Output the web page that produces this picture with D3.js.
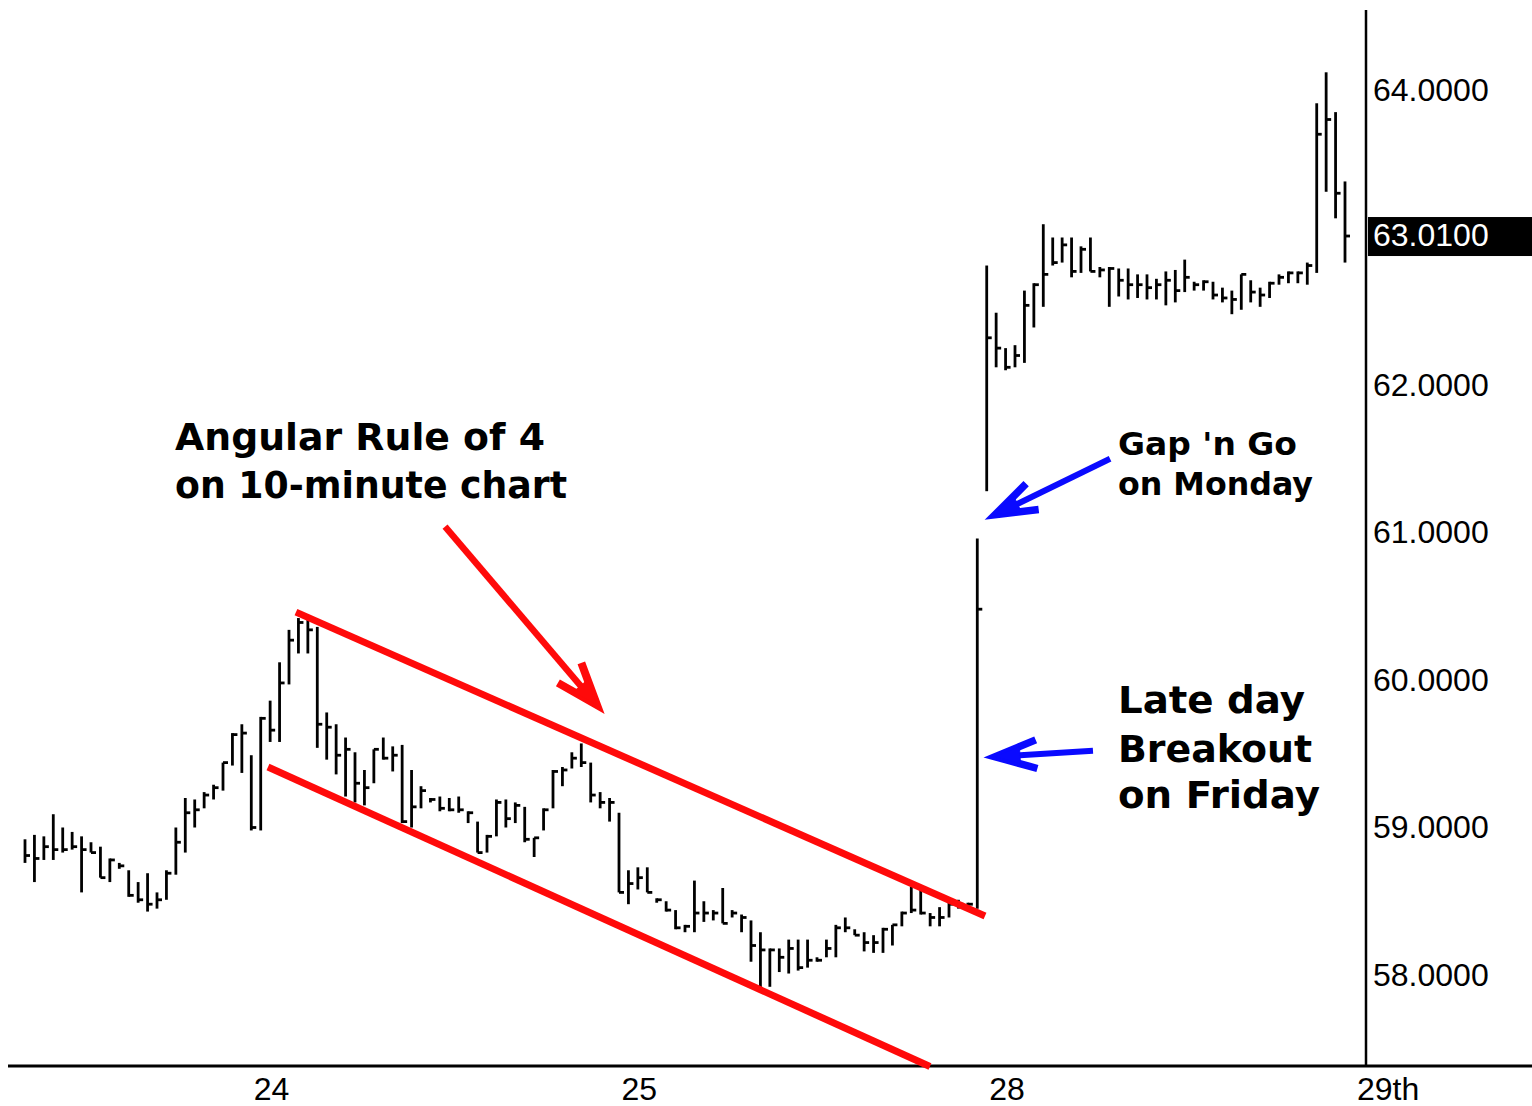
<!DOCTYPE html>
<head>
  <meta charset="utf-8">
  <script src="https://d3js.org/d3.v7.min.js"></script>
  <style>
    body { margin:0; background:#fff; }
    .tick text { font-family:"Liberation Sans", Arial, sans-serif; font-size:32px; fill:#000; }
    .note { font-family:"DejaVu Sans", Verdana, sans-serif; font-weight:bold; fill:#000; }
  </style>
</head>
<body>
<script>

// 10-minute bars: high / low / close, one row per session (23rd tail, 24, 25, 28)
var highs = [
  58.92,58.95,58.94,59.09,59.00,58.97,58.94,58.90,58.87,58.79,58.76,58.71,58.63,58.69,58.56,58.71,59.00,59.20,59.19,59.24,59.29,59.44,59.64,59.70,
  59.49,59.75,59.86,60.12,60.34,60.42,60.41,60.36,59.78,59.70,59.61,59.51,59.39,59.53,59.61,59.55,59.56,59.39,59.28,59.20,59.21,59.20,59.21,59.11,59.04,58.95,59.19,59.19,59.17,59.14,58.93,59.13,59.39,59.41,59.51,59.57,59.44,59.24,59.20,
  59.10,58.71,58.73,58.73,58.52,58.50,58.44,58.34,58.64,58.50,58.44,58.59,58.44,58.41,58.37,58.29,58.18,58.18,58.24,58.24,58.24,58.12,58.24,58.34,58.39,58.31,58.29,58.27,58.32,58.34,58.43,58.60,58.59,58.42,58.46,58.49,58.51,58.49,60.96,
  62.81,62.49,62.25,62.27,62.64,62.69,63.09,63.00,63.00,63.00,62.94,63.00,62.80,62.80,62.79,62.79,62.75,62.75,62.72,62.77,62.78,62.85,62.70,62.71,62.70,62.66,62.64,62.75,62.71,62.66,62.70,62.75,62.77,62.77,62.83,63.91,64.12,63.85,63.38
];
var lows = [
  58.76,58.63,58.78,58.78,58.83,58.85,58.56,58.83,58.66,58.63,58.72,58.53,58.49,58.43,58.45,58.51,58.68,58.83,59.00,59.13,59.19,59.25,59.42,59.37,
  58.98,58.98,59.58,59.58,59.97,60.18,60.18,59.54,59.46,59.36,59.21,59.17,59.15,59.30,59.46,59.38,59.03,59.00,59.13,59.17,59.11,59.11,59.10,59.03,58.83,58.83,58.94,59.00,59.03,58.90,58.80,58.98,59.13,59.28,59.40,59.41,59.17,59.13,59.04,
  58.56,58.48,58.58,58.56,58.49,58.43,58.31,58.29,58.29,58.36,58.37,58.35,58.39,58.29,58.09,57.91,57.92,58.02,58.01,58.03,58.05,58.09,58.12,58.12,58.29,58.27,58.16,58.15,58.15,58.20,58.33,58.42,58.41,58.33,58.33,58.39,58.45,58.44,58.45,
  61.28,62.12,62.10,62.12,62.15,62.39,62.53,62.81,62.83,62.73,62.76,62.77,62.73,62.53,62.60,62.58,62.59,62.58,62.58,62.54,62.56,62.63,62.64,62.64,62.58,62.56,62.48,62.51,62.56,62.53,62.59,62.68,62.69,62.69,62.68,62.76,63.31,63.13,62.83
];
var closes = [
  58.81,58.79,58.87,58.85,58.85,58.87,58.85,58.83,58.66,58.78,58.74,58.54,58.51,58.48,58.51,58.69,58.90,59.10,59.12,59.22,59.27,59.44,59.63,59.64,
  59.00,59.74,59.66,59.98,60.27,60.39,60.34,59.70,59.68,59.49,59.53,59.30,59.27,59.53,59.47,59.49,59.04,59.14,59.25,59.19,59.13,59.12,59.12,59.10,58.83,58.94,59.17,59.06,59.15,58.92,58.93,59.12,59.38,59.39,59.47,59.44,59.22,59.17,59.17,
  58.56,58.62,58.66,58.56,58.51,58.44,58.32,58.33,58.42,58.42,58.42,58.35,58.42,58.39,58.20,58.17,58.17,58.12,58.18,58.05,58.10,58.10,58.18,58.32,58.32,58.27,58.22,58.22,58.31,58.34,58.42,58.44,58.42,58.39,58.39,58.48,58.48,58.48,60.48,
  62.32,62.25,62.12,62.20,62.54,62.68,62.75,62.83,62.95,62.77,62.92,62.77,62.78,62.79,62.71,62.68,62.68,62.66,62.68,62.71,62.64,62.73,62.68,62.70,62.61,62.59,62.58,62.75,62.63,62.61,62.69,62.73,62.76,62.76,62.81,63.70,63.80,63.30,63.01
];

var dayLabels = ["24", "25", "28", "29th"];
var dayStarts = [24, 63, 102, 141];   // bar index where each session opens
var priceTicks = [58, 59, 60, 61, 62, 64];
var lastPrice = 63.01;

// hand-drawn annotations, in (bar index, price)
var channelTop = [[28.74, 60.46], [101.82, 58.40]];
var channelBottom = [[25.77, 59.41], [95.98, 57.38]];
var redArrow = [[44.55, 61.04], [60.67, 59.83]];
var gapArrow = [[115.08, 61.50], [102.88, 61.12]];
var lateArrow = [[113.27, 59.52], [102.88, 59.48]];

var width = 1532, height = 1106;
var axisLeft = 8, axisRight = 1366, axisBottom = 1066;

var svg = d3.select("body").append("svg")
    .attr("width", width)
    .attr("height", height);

var x = d3.scaleLinear().domain([0, 140]).range([25, 1345]);
var y = d3.scaleLinear().domain([58, 64]).range([975, 90]);

// price bars
var bars = svg.append("g")
    .attr("stroke", "#000")
    .attr("stroke-width", 2.8)
  .selectAll("g")
  .data(highs)
  .join("g");

bars.append("line")
    .attr("x1", function(d, i){ return x(i); })
    .attr("x2", function(d, i){ return x(i); })
    .attr("y1", function(d){ return y(d); })
    .attr("y2", function(d, i){ return y(lows[i]); });

bars.append("line")
    .attr("x1", function(d, i){ return x(i); })
    .attr("x2", function(d, i){ return x(i) + 5; })
    .attr("y1", function(d, i){ return y(closes[i]); })
    .attr("y2", function(d, i){ return y(closes[i]); });

// frame lines
svg.append("line")
    .attr("x1", axisLeft).attr("x2", width)
    .attr("y1", axisBottom).attr("y2", axisBottom)
    .attr("stroke", "#000").attr("stroke-width", 3);
svg.append("line")
    .attr("x1", axisRight).attr("x2", axisRight)
    .attr("y1", 10).attr("y2", axisBottom)
    .attr("stroke", "#000").attr("stroke-width", 2.5);

// price axis
var yAxis = svg.append("g")
    .attr("transform", "translate(" + axisRight + ",0)")
    .call(d3.axisRight(y).tickValues(priceTicks).tickSize(0).tickPadding(7)
          .tickFormat(d3.format(".4f")));
yAxis.select(".domain").remove();
yAxis.attr("font-family", null).attr("font-size", null);

var last = svg.append("g")
    .attr("class", "tick")
    .attr("transform", "translate(" + axisRight + "," + y(lastPrice) + ")");
last.append("rect")
    .attr("x", 2).attr("y", -19)
    .attr("width", width - axisRight - 2).attr("height", 39)
    .attr("fill", "#000");
last.append("text")
    .attr("x", 7).attr("dy", "0.32em")
    .style("fill", "#fff")
    .text(d3.format(".4f")(lastPrice));

// date axis
var xAxis = svg.append("g")
    .attr("transform", "translate(0," + axisBottom + ")")
    .call(d3.axisBottom(x).tickValues(dayStarts).tickSize(0)
          .tickFormat(function(d, i){ return dayLabels[i]; }));
xAxis.select(".domain").remove();
xAxis.attr("font-family", null).attr("font-size", null);
xAxis.selectAll("text")
    .attr("text-anchor", "start")
    .attr("x", 2)
    .attr("y", 0)
    .attr("dy", 34);

// red channel
var red = "#ff0a0a", blue = "#0a0aff";
[channelTop, channelBottom].forEach(function(seg){
  svg.append("line")
      .attr("x1", x(seg[0][0])).attr("y1", y(seg[0][1]))
      .attr("x2", x(seg[1][0])).attr("y2", y(seg[1][1]))
      .attr("stroke", red).attr("stroke-width", 7);
});

function drawArrow(seg, color, w, len, ang){
  var x1 = x(seg[0][0]), y1 = y(seg[0][1]);
  var x2 = x(seg[1][0]), y2 = y(seg[1][1]);
  var a = Math.atan2(y1 - y2, x1 - x2);
  var r = ang * Math.PI / 180;
  var b1 = [x2 + len * Math.cos(a - r), y2 + len * Math.sin(a - r)];
  var b2 = [x2 + len * Math.cos(a + r), y2 + len * Math.sin(a + r)];
  var g = svg.append("g").attr("stroke", color).attr("fill", color);
  g.append("line")
      .attr("x1", x1).attr("y1", y1).attr("x2", x2).attr("y2", y2)
      .attr("stroke-width", w);
  g.append("path")
      .attr("d", "M" + b1 + "L" + [x2, y2] + "L" + b2)
      .attr("fill", "none")
      .attr("stroke-width", w + 1.5);
  var s = 0.6;
  g.append("path")
      .attr("d", "M" + [x2 + (b1[0]-x2)*s, y2 + (b1[1]-y2)*s] + "L" + [x2, y2] +
                 "L" + [x2 + (b2[0]-x2)*s, y2 + (b2[1]-y2)*s] + "Z")
      .attr("stroke-width", 1);
}

drawArrow(redArrow, red, 6.5, 45, 20);
drawArrow(gapArrow, blue, 6, 44, 19);
drawArrow(lateArrow, blue, 6, 44, 19);

// notes
function note(lines, x0, baselines, size, lengths){
  var t = svg.append("text").attr("class", "note").attr("font-size", size);
  lines.forEach(function(s, i){
    t.append("tspan").attr("x", x0).attr("y", baselines[i])
        .attr("textLength", lengths[i]).attr("lengthAdjust", "spacingAndGlyphs")
        .text(s);
  });
}
note(["Angular Rule of 4", "on 10-minute chart"], 175, [450, 498], 38, [370, 392]);
note(["Gap 'n Go", "on Monday"], 1118, [455, 495], 32, [179, 195]);
note(["Late day", "Breakout", "on Friday"], 1118, [713, 762, 808], 37, [187, 194, 202]);

</script>
</body>
